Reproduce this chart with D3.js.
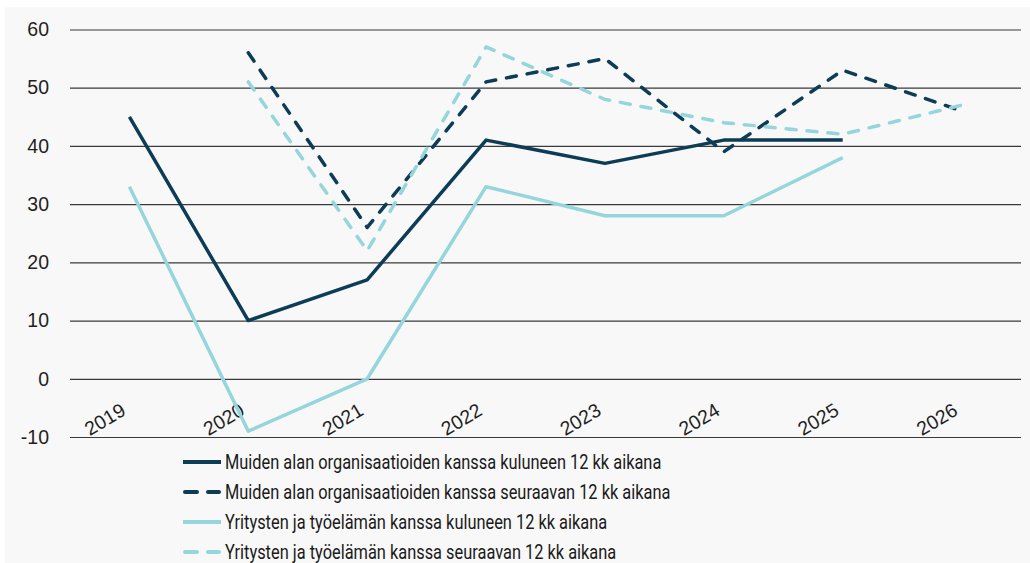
<!DOCTYPE html>
<html>
<head>
<meta charset="utf-8">
<script src="https://cdn.jsdelivr.net/npm/d3@7"></script>
<style>
  html, body { margin: 0; padding: 0; background: #fff; }
  svg { display: block; }
</style>
</head>
<body>
<div id="chart"></div>
<script>
// data
const years = ["2019", "2020", "2021", "2022", "2023", "2024", "2025", "2026"];
const muidenKuluneen = [45, 10, 17, 41, 37, 41, 41, null];
const muidenSeuraavan = [null, 56, 26, 51, 55, 39, 53, 46];
const yritystenKuluneen = [33, -9, 0, 33, 28, 28, 38, null];
const yritystenSeuraavan = [null, 51, 22, 57, 48, 44, 42, 47];
const yTicks = [-10, 0, 10, 20, 30, 40, 50, 60];

const seriesNames = [
    "Muiden alan organisaatioiden kanssa kuluneen 12 kk aikana",
    "Muiden alan organisaatioiden kanssa seuraavan 12 kk aikana",
    "Yritysten ja työelämän kanssa kuluneen 12 kk aikana",
    "Yritysten ja työelämän kanssa seuraavan 12 kk aikana"
];

const dark = "#0c3c56";
const light = "#95d5dc";

const series = [
    { name: seriesNames[0], values: muidenKuluneen, color: dark, dashed: false },
    { name: seriesNames[1], values: muidenSeuraavan, color: dark, dashed: true },
    { name: seriesNames[2], values: yritystenKuluneen, color: light, dashed: false },
    { name: seriesNames[3], values: yritystenSeuraavan, color: light, dashed: true }
];

const W = 1030, H = 563;
const plot = { left: 70, right: 1021, top: 29.5, bottom: 437 };
const tickFont = "'Liberation Sans', Arial, sans-serif";

const svg = d3.select("#chart")
    .append("svg")
    .attr("width", W)
    .attr("height", H);

svg.append("rect")
    .attr("x", 5).attr("y", 7)
    .attr("width", W - 5).attr("height", H - 7)
    .attr("fill", "#f8f8f8");

const x = d3.scalePoint()
    .domain(years)
    .range([plot.left, plot.right])
    .padding(0.5);

const y = d3.scaleLinear()
    .domain([-10, 60])
    .range([plot.bottom, plot.top]);

// gridlines + y labels
const yAxis = svg.append("g")
    .attr("transform", `translate(${plot.left},0)`)
    .call(d3.axisLeft(y)
        .tickValues(yTicks)
        .tickFormat(d => String(d))
        .tickSize(-(plot.right - plot.left))
        .tickPadding(21));
yAxis.select(".domain").remove();
yAxis.selectAll(".tick line")
    .attr("stroke", "#3a3a3a")
    .attr("stroke-width", 1.2);
yAxis.selectAll(".tick text")
    .attr("fill", "#1f1f1f")
    .style("font-family", tickFont)
    .style("font-size", "19.5px");

// x labels
const xAxis = svg.append("g")
    .attr("transform", `translate(0,${plot.bottom})`)
    .call(d3.axisBottom(x).tickSize(0));
xAxis.select(".domain").remove();
xAxis.selectAll(".tick text")
    .attr("x", 0).attr("y", 0).attr("dy", 0)
    .attr("text-anchor", "end")
    .attr("transform", "translate(-3,-23) rotate(-31)")
    .attr("fill", "#1f1f1f")
    .style("font-family", tickFont)
    .style("font-size", "19.5px");

const line = d3.line()
    .defined(d => d.v !== null)
    .x(d => x(d.year))
    .y(d => y(d.v));

series.forEach(s => {
    const pts = years.map((yr, i) => ({ year: yr, v: s.values[i] }));
    svg.append("path")
        .datum(pts)
        .attr("fill", "none")
        .attr("stroke", s.color)
        .attr("stroke-width", 3.5)
        .attr("stroke-linejoin", "round")
        .attr("stroke-linecap", s.dashed ? "round" : "butt")
        .attr("stroke-dasharray", s.dashed ? "10 11" : null)
        .attr("d", line);
});

// legend
const legend = svg.append("g");
const rowY = d3.scalePoint().domain(seriesNames).range([462, 552]);
series.forEach(s => {
    const g = legend.append("g").attr("transform", `translate(0,${rowY(s.name)})`);
    if (s.dashed) {
        g.append("line").attr("x1", 185).attr("x2", 197).attr("y1", 0).attr("y2", 0)
            .attr("stroke", s.color).attr("stroke-width", 4).attr("stroke-linecap", "round");
        g.append("line").attr("x1", 208).attr("x2", 219).attr("y1", 0).attr("y2", 0)
            .attr("stroke", s.color).attr("stroke-width", 4).attr("stroke-linecap", "round");
    } else {
        g.append("line").attr("x1", 183).attr("x2", 221).attr("y1", 0).attr("y2", 0)
            .attr("stroke", s.color).attr("stroke-width", 4);
    }
    // narrow face emulated by horizontal squeeze
    g.append("text")
        .attr("transform", "translate(225,0) scale(0.82,1)")
        .attr("dy", "0.36em")
        .attr("fill", "#1a1a1a")
        .style("font-family", "Roboto, 'Noto Sans', sans-serif")
        .style("font-size", "20px")
        .text(s.name);
});
</script>
</body>
</html>
